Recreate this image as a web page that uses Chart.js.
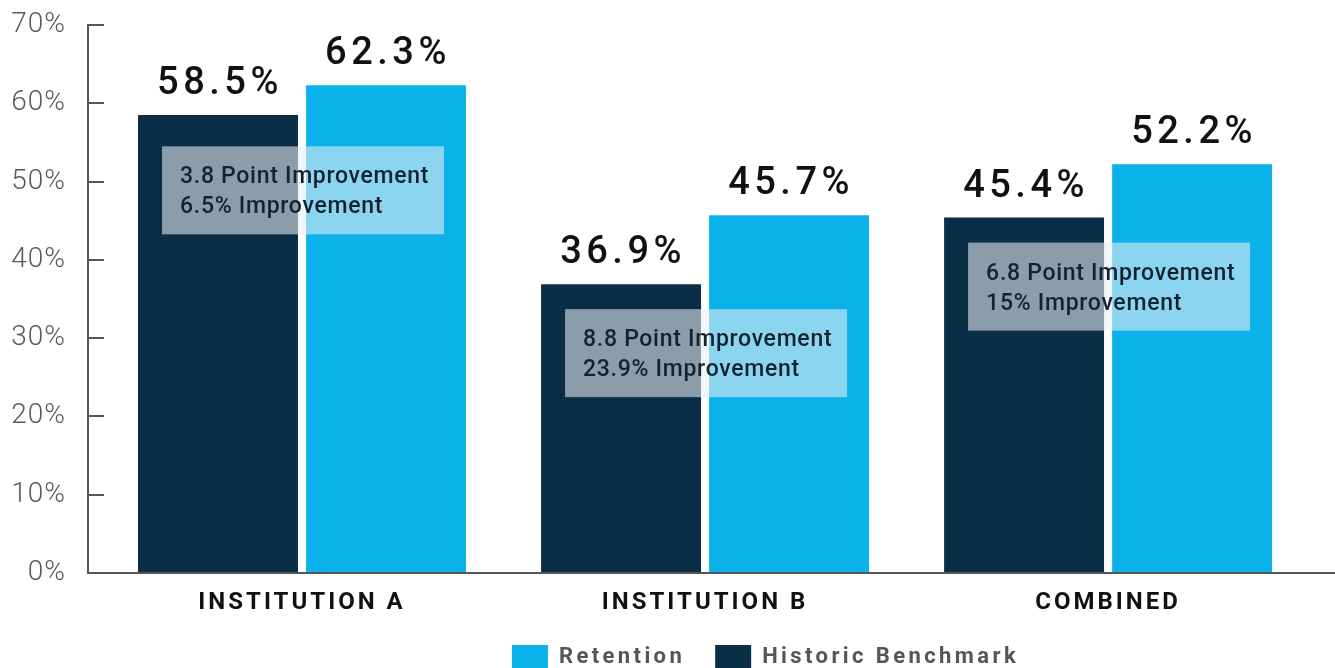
<!DOCTYPE html>
<html>
<head>
<meta charset="utf-8">
<title>Retention vs Historic Benchmark</title>
<script src="https://cdn.jsdelivr.net/npm/chart.js@4.4.1/dist/chart.umd.min.js"></script>
<style>
  html, body { margin: 0; padding: 0; background: #fff; overflow: hidden; }
  #wrap { position: relative; width: 1335px; height: 679px; }
</style>
</head>
<body>
<div id="wrap"><canvas id="myChart"></canvas></div>
<script>
// values
const categories = ['INSTITUTION A', 'INSTITUTION B', 'COMBINED'];
const benchmark = [58.5, 36.9, 45.4];
const retention = [62.3, 45.7, 52.2];
const pointGain = ['3.8', '8.8', '6.8'];
const pctGain = ['6.5', '23.9', '15'];
const yMax = 70;
const yStep = 10;

const NAVY = '#0b2e47';
const CYAN = '#0bb2ea';

Chart.defaults.font.family = 'Roboto';

// canvas letterSpacing for the spaced-out labels
const spacingPlugin = {
  id: 'spacing',
  beforeLayout(chart) { chart.ctx.letterSpacing = '3.4px'; },
  beforeDraw(chart) { chart.ctx.letterSpacing = '3.4px'; },
  afterLayout(chart, args, opts) {
    [['x', '3px'], ['y', '1px']].forEach(([id, px]) => {
      const s = chart.scales[id];
      if (s._spaced) return;
      const orig = s.drawLabels;
      s.drawLabels = function(area) {
        this.ctx.save();
        this.ctx.letterSpacing = px;
        orig.call(this, area);
        this.ctx.restore();
      };
      s._spaced = true;
    });
    // legend sits right of centre in the original
    chart.legend.left += opts.legendShift;
  }
};

const labelPlugin = {
  id: 'barLabels',
  afterDatasetsDraw(chart, args, opts) {
    const {ctx, scales: {y}} = chart;
    ctx.save();
    // improvement boxes
    chart.getDatasetMeta(0).data.forEach((bar, i) => {
      const left = bar.x - bar.width / 2 + 24;
      const top = y.getPixelForValue(opts.boxTops[i]);
      ctx.fillStyle = 'rgba(232,238,244,0.58)';
      ctx.fillRect(left, top, 282, 88);
      ctx.fillStyle = '#142230';
      ctx.font = '500 23px Roboto';
      ctx.letterSpacing = '0.7px';
      ctx.textAlign = 'left';
      ctx.textBaseline = 'alphabetic';
      ctx.fillText(pointGain[i] + ' Point Improvement', left + 18, top + 37);
      ctx.fillText(pctGain[i] + '% Improvement', left + 18, top + 67);
    });
    // value labels over bars
    ctx.font = '500 38px Roboto';
    ctx.letterSpacing = '4.5px';
    ctx.textAlign = 'center';
    ctx.fillStyle = '#111';
    chart.data.datasets.forEach((ds, d) => {
      chart.getDatasetMeta(d).data.forEach((bar, i) => {
        ctx.fillText(ds.data[i].toFixed(1) + '%', bar.x + 2, bar.y - 21);
      });
    });
    ctx.restore();
  }
};

const data = {
  labels: categories,
  datasets: [
    {
      label: 'Historic Benchmark',
      data: benchmark,
      backgroundColor: NAVY,
      borderWidth: 0
    },
    {
      label: 'Retention',
      data: retention,
      backgroundColor: CYAN,
      borderWidth: 0
    }
  ]
};

const config = {
  type: 'bar',
  data: data,
  options: {
    responsive: true,
    maintainAspectRatio: false,
    animation: false,
    events: [],
    categoryPercentage: 0.8337,
    barPercentage: 0.952,
    layout: { padding: { top: 25 } },
    plugins: {
      tooltip: { enabled: false },
      spacing: { legendShift: 196 },
      barLabels: { boxTops: [54.5, 33.7, 42.2] },
      legend: {
        position: 'bottom',
        reverse: true,
        labels: {
          boxWidth: 36,
          boxHeight: 24,
          padding: 30,
          color: '#555',
          font: { size: 22, weight: 'bold' }
        }
      }
    },
    scales: {
      x: {
        afterBuildTicks(scale) {
          // first group centred at ~302px, groups 403px apart
          scale._startValue = -0.531;
          scale._valueRange = 3.094;
        },
        afterFit(scale) { scale.height = 42; },
        border: { color: '#555', width: 2 },
        grid: { display: false, drawTicks: false },
        ticks: {
          padding: 16,
          color: '#111',
          autoSkip: false,
          maxRotation: 0,
          font: { size: 24, weight: 'bold' }
        }
      },
      y: {
        min: 0,
        max: yMax,
        afterFit(scale) {
          scale.width = 88;
          scale.paddingTop = 0;
          scale.paddingBottom = 0;
        },
        border: { color: '#555', width: 2 },
        grid: { drawOnChartArea: false, drawTicks: true, tickLength: -16, color: '#555', lineWidth: 2 },
        ticks: {
          stepSize: yStep,
          padding: 38,
          color: '#5a5a5a',
          font: { size: 28, weight: 300 },
          callback: v => v + '%'
        }
      }
    }
  },
  plugins: [spacingPlugin, labelPlugin]
};

const myChart = new Chart(document.getElementById('myChart'), config);
</script>
</body>
</html>
